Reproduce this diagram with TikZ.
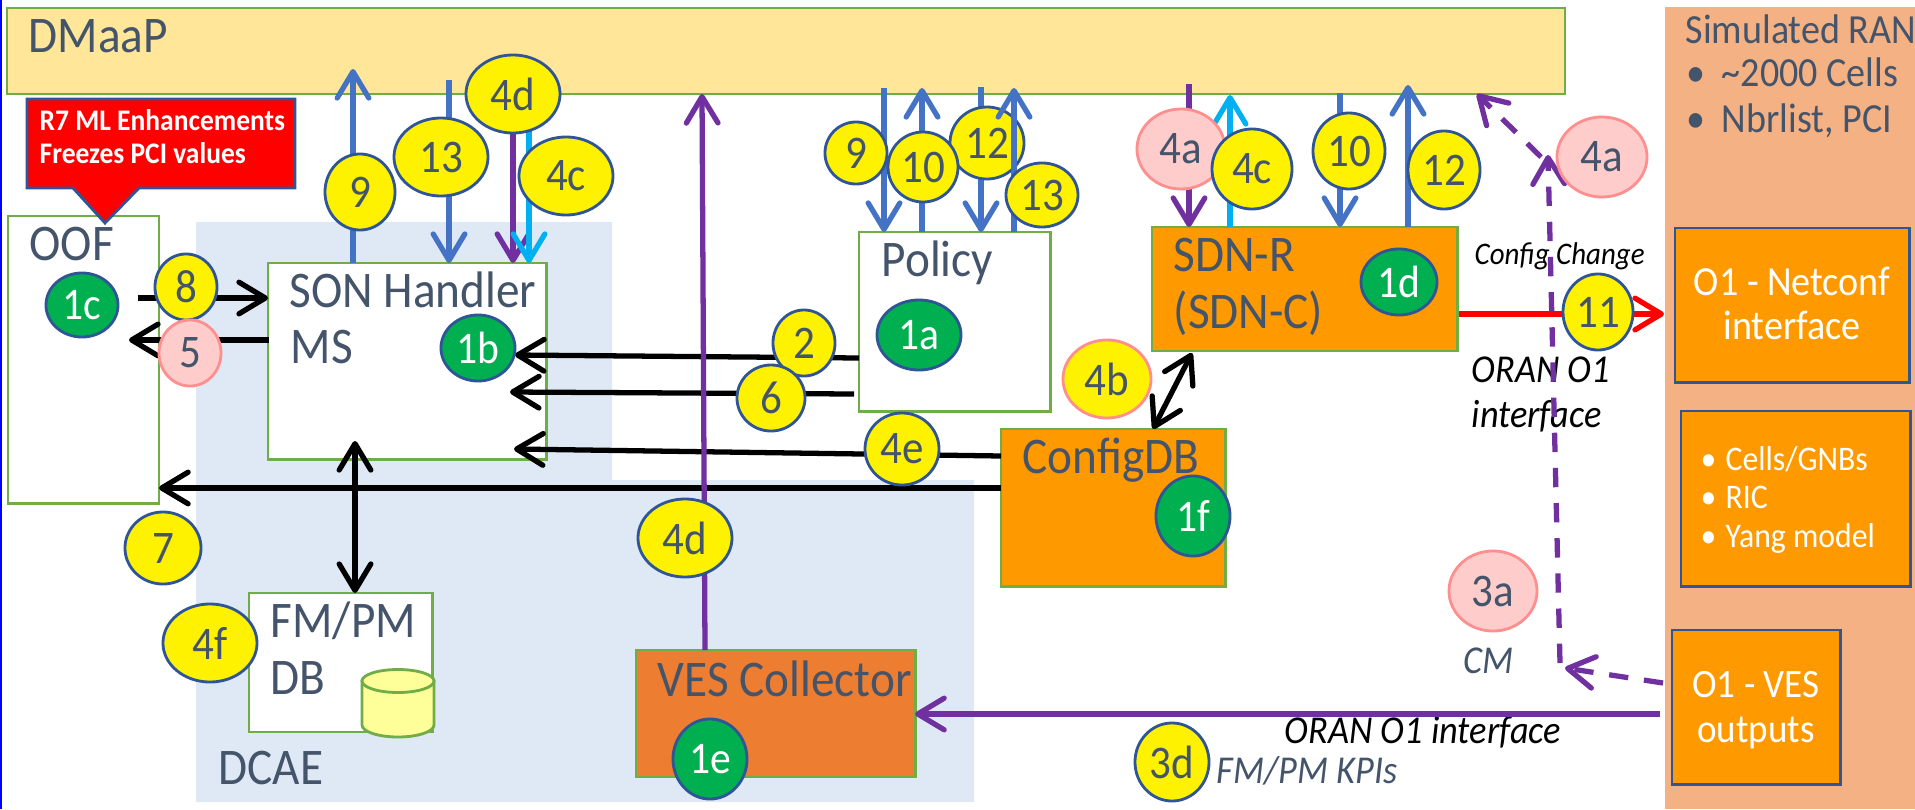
\documentclass[tikz,border=0pt]{standalone}
\usepackage{fontspec}
\setmainfont[Scale=1.09,FakeStretch=0.92]{Carlito}
\usepackage{tikz}
\usetikzlibrary{arrows.meta,shapes.geometric}
\definecolor{slate}{HTML}{44546A}
\definecolor{boxgreen}{HTML}{70AD47}
\definecolor{edgeblue}{HTML}{2F5597}
\definecolor{lineblue}{HTML}{4472C4}
\definecolor{linecyan}{HTML}{00B0F0}
\definecolor{linepurple}{HTML}{7030A0}
\definecolor{dmaapfill}{HTML}{FFE699}
\definecolor{dcaefill}{HTML}{DEE9F5}
\definecolor{ranfill}{HTML}{F4B183}
\definecolor{boxorange}{HTML}{FF9900}
\definecolor{vesorange}{HTML}{ED7D31}
\definecolor{cylfill}{HTML}{FFFF99}
\definecolor{pinkfill}{HTML}{FFCCCC}
\definecolor{pinkedge}{HTML}{FF8F8F}
\definecolor{badgegreen}{HTML}{00B050}
\tikzset{
	box/.style={draw=boxgreen, line width=0.8pt, anchor=north west, inner sep=0pt, outer sep=0pt},
	ranbox/.style={draw=edgeblue, fill=boxorange, line width=0.8pt, anchor=north west, inner sep=0pt, outer sep=0pt},
	lbl/.style={text=slate, anchor=base west, inner sep=0pt, font=\fontsize{13.4}{16}\selectfont},
	midlbl/.style={lbl, font=\fontsize{10.4}{12}\selectfont},
	oran/.style={lbl, text=black, font=\fontsize{10.3}{12}\itshape\selectfont},
	whitelbl/.style={text=white, anchor=base, inner sep=0pt, font=\fontsize{10.5}{12}\selectfont},
	badge/.style={ellipse, draw=edgeblue, line width=0.8pt, inner sep=0pt, text=slate, fill=yellow, font=\fontsize{12.2}{14}\selectfont},
	pinkb/.style={badge, draw=pinkedge, fill=pinkfill},
	greenb/.style={badge, fill=badgegreen, text=white, font=\fontsize{11.8}{14}\selectfont},
	link/.style={line width=1.5pt, -{Straight Barb[length=7.5pt,width=9pt,round]}},
	twolink/.style={line width=1.5pt, {Straight Barb[length=7.5pt,width=9pt,round]}-{Straight Barb[length=7.5pt,width=9pt,round]}},
	dashlink/.style={link, linepurple, dash pattern=on 5.5pt off 4.5pt},
}

\begin{document}
\begin{tikzpicture}[x=0.01cm, y=-0.01cm]
	\useasboundingbox (0,0) rectangle (1915,809);
	% Backgrounds
	\fill[blue] (0,0) rectangle (2,809);
	\fill[dcaefill] (196,222) -- (612,222) -- (612,480) -- (974,480) -- (974,802) -- (196,802) -- cycle;
	\fill[ranfill] (1665,7) rectangle (1915,809);
	% Define nodes
	\node[box, fill=dmaapfill, minimum width=15.57cm, minimum height=0.86cm] (dmaap) at (7,8) {};
	\node[box, fill=white, minimum width=1.51cm, minimum height=2.87cm]     (oof) at (8,216) {};
	\node[box, fill=white, minimum width=2.78cm, minimum height=1.96cm]     (son) at (268,263) {};
	\node[box, fill=white, minimum width=1.91cm, minimum height=1.79cm]     (policy) at (859,232) {};
	\node[box, fill=boxorange, minimum width=3.05cm, minimum height=1.24cm] (sdnr) at (1152,227) {};
	\node[box, fill=boxorange, minimum width=2.24cm, minimum height=1.57cm] (configdb) at (1001,429) {};
	\node[box, fill=white, minimum width=1.83cm, minimum height=1.39cm]     (fmpm) at (249,593) {};
	\node[box, fill=vesorange, minimum width=2.79cm, minimum height=1.27cm] (vescol) at (636,650) {};
	\node[ranbox, minimum width=2.34cm, minimum height=1.54cm] (netconf) at (1675,228) {};
	\node[ranbox, minimum width=2.29cm, minimum height=1.75cm] (cells) at (1681,411) {};
	\node[ranbox, minimum width=1.68cm, minimum height=1.54cm] (o1ves) at (1672,630) {};
	% Database drum
	\draw[draw=boxgreen, fill=cylfill, line width=0.8pt] (362,681) -- (362,725) arc[start angle=180, end angle=0, x radius=36, y radius=12] -- (434,681) -- cycle;
	\draw[draw=boxgreen, fill=cylfill, line width=0.8pt] (398,681) ellipse [x radius=36, y radius=11.5];
	% Callout
	\draw[fill=red, draw=edgeblue, line width=0.8pt] (27,99) -- (295,99) -- (295,188) -- (139,188) -- (105,223) -- (73,188) -- (27,188) -- cycle;
	\node[lbl, text=white, font=\fontsize{7.8}{10}\bfseries\selectfont] (r7a) at (39,130) {R7 ML Enhancements};
	\node[lbl, text=white, font=\fontsize{7.8}{10}\bfseries\selectfont] (r7b) at (39,163) {Freezes PCI values};
	% Labels
	\node[lbl] (dmaaptxt) at (28,52) {DMaaP};
	\node[lbl] (ooftxt) at (29,260) {OOF};
	\node[lbl] (sontxt) at (289,307) {SON Handler};
	\node[lbl] (mstxt) at (290,363) {MS};
	\node[lbl] (policytxt) at (881,276) {Policy};
	\node[lbl] (sdnrtxt) at (1173,271) {SDN-R};
	\node[lbl] (sdnctxt) at (1173,328) {(SDN-C)};
	\node[lbl] (configtxt) at (1022,473) {ConfigDB};
	\node[lbl] (fmpmtxt) at (270,637) {FM/PM};
	\node[lbl] (dbtxt) at (270,694) {DB};
	\node[lbl] (dcaetxt) at (218,784) {DCAE};
	\node[lbl] (vestxt) at (657,696) {VES Collector};
	\node[midlbl, font=\fontsize{10.8}{12}\selectfont] (simtxt) at (1685,43) {Simulated RAN};
	\node[midlbl, font=\fontsize{10.8}{12}\selectfont] (cellcount) at (1686,87) {\makebox[0.35cm][l]{•}\textasciitilde 2000 Cells};
	\node[midlbl, font=\fontsize{10.8}{12}\selectfont] (nbrlist) at (1686,132) {\makebox[0.35cm][l]{•}Nbrlist, PCI};
	\node[whitelbl, font=\fontsize{10.8}{12}\selectfont] (nctxta) at (1792,295) {O1 - Netconf};
	\node[whitelbl, font=\fontsize{10.8}{12}\selectfont] (nctxtb) at (1792,339) {interface};
	\node[whitelbl, anchor=base west, font=\fontsize{9}{11}\selectfont] (celltxt) at (1700,470) {\makebox[0.25cm][l]{•}Cells/GNBs};
	\node[whitelbl, anchor=base west, font=\fontsize{9}{11}\selectfont] (rictxt) at (1700,508) {\makebox[0.25cm][l]{•}RIC};
	\node[whitelbl, anchor=base west, font=\fontsize{9}{11}\selectfont] (yangtxt) at (1700,547) {\makebox[0.25cm][l]{•}Yang model};
	\node[whitelbl] (vesouta) at (1756,697) {O1 - VES};
	\node[whitelbl] (vesoutb) at (1756,742) {outputs};
	\node[oran, font=\fontsize{8.2}{10}\itshape\selectfont] (cfgchg) at (1474,264) {Config Change};
	\node[oran] (oranr1) at (1471,382) {ORAN O1};
	\node[oran] (oranr2) at (1471,427) {interface};
	\node[oran] (oranb) at (1284,743) {ORAN O1 interface};
	\node[midlbl, font=\fontsize{10.3}{12}\itshape\selectfont] (kpitxt) at (1216,783) {FM/PM KPIs};
	\node[midlbl, font=\fontsize{10.3}{12}\itshape\selectfont] (cmtxt) at (1463,673) {CM};
	% Free arrow ends
	\coordinate (s8) at (138,298);
	\coordinate (y5) at (269,340);
	\coordinate (e5) at (129,340);
	\coordinate (s2) at (859,358);
	\coordinate (e2) at (515,355);
	\coordinate (s6) at (854,394);
	\coordinate (e6) at (510,392);
	\coordinate (s4e) at (1001,456);
	\coordinate (e4e) at (514,449);
	\coordinate (y7) at (1001,488);
	\coordinate (up1) at (355,441);
	\coordinate (dn1) at (355,593);
	\coordinate (up2) at (1192,353);
	\coordinate (dn2) at (1153,429);
	\coordinate (t9a) at (353,69);
	\coordinate (s13a) at (449,80);
	\coordinate (x4da) at (513,94);
	\coordinate (s4ca) at (529,125);
	\coordinate (s9b) at (884,88);
	\coordinate (t10b) at (922,88);
	\coordinate (s12b) at (981,87);
	\coordinate (t13b) at (1014,88);
	\coordinate (s4ab) at (1189,84);
	\coordinate (t4cb) at (1230,95);
	\coordinate (s10c) at (1340,93);
	\coordinate (t12c) at (1408,85);
	\coordinate (sves) at (705,650);
	\coordinate (tves) at (702,94);
	\coordinate (sred) at (1459,314);
	\coordinate (ered) at (1664,314);
	\coordinate (s3d) at (1660,714);
	\coordinate (d1s) at (1663,683);
	\coordinate (d1e) at (1565,668);
	\coordinate (d2s) at (1560,663);
	\coordinate (d2e) at (1548,155);
	\coordinate (d3s) at (1541,157);
	\coordinate (d3e) at (1477,94);
	% Connect the nodes
	\draw[link] (s8) -- (son.west |- s8);
	\draw[link] (y5) -- (e5);
	\draw[link] (s2) -- (e2);
	\draw[link] (s6) -- (e6);
	\draw[link] (s4e) -- (e4e);
	\draw[link] (y7) -- (oof.east |- y7);
	\draw[twolink] (up1) -- (dn1);
	\draw[twolink] (up2) -- (dn2);
	\draw[link, lineblue] (son.north -| t9a) -- (t9a);
	\draw[link, lineblue] (s13a) -- (son.north -| s13a);
	\draw[link, linepurple] (x4da) -- (son.north -| x4da);
	\draw[link, linecyan] (s4ca) -- (son.north -| s4ca);
	\draw[link, lineblue] (s9b) -- (policy.north -| s9b);
	\draw[link, lineblue] (policy.north -| t10b) -- (t10b);
	\draw[link, lineblue] (s12b) -- (policy.north -| s12b);
	\draw[link, linepurple] (s4ab) -- (sdnr.north -| s4ab);
	\draw[link, linecyan] (sdnr.north -| t4cb) -- (t4cb);
	\draw[link, lineblue] (s10c) -- (sdnr.north -| s10c);
	\draw[link, lineblue] (sdnr.north -| t12c) -- (t12c);
	\draw[link, linepurple] (sves) -- (tves);
	\draw[link, red] (sred) -- (ered);
	\draw[link, linepurple] (s3d) -- (vescol.east |- s3d);
	\draw[dashlink] (d1s) -- (d1e);
	\draw[dashlink] (d2s) -- (d2e);
	\draw[dashlink] (d3s) -- (d3e);
	% Badges
	\node[badge, minimum width=0.94cm, minimum height=0.78cm] (b4da) at (513,94) {4d};
	\node[badge, minimum width=0.94cm, minimum height=0.78cm] (b13a) at (441,157) {13};
	\node[badge, minimum width=0.70cm, minimum height=0.76cm] (b9a) at (360,192) {9};
	\node[badge, minimum width=0.94cm, minimum height=0.78cm] (b4ca) at (566,176) {4c};
	\node[badge, minimum width=0.62cm, minimum height=0.66cm] (b8) at (186,287) {8};
	\node[pinkb, minimum width=0.62cm, minimum height=0.66cm] (b5) at (190,353) {5};
	\node[badge, minimum width=0.62cm, minimum height=0.62cm] (b9b) at (856,153) {9};
	\node[badge, minimum width=0.74cm, minimum height=0.72cm] (b12b) at (987,143) {12};
	\draw[link, lineblue] (policy.north -| t13b) -- (t13b);
	\node[badge, minimum width=0.70cm, minimum height=0.70cm] (b10b) at (923,167) {10};
	\node[badge, minimum width=0.72cm, minimum height=0.64cm] (b13b) at (1042,195) {13};
	\node[pinkb, minimum width=0.88cm, minimum height=0.80cm] (b4ab) at (1181,149) {4a};
	\node[badge, minimum width=0.80cm, minimum height=0.80cm] (b4cb) at (1252,169) {4c};
	\node[badge, minimum width=0.72cm, minimum height=0.76cm] (b10c) at (1349,151) {10};
	\node[badge, minimum width=0.72cm, minimum height=0.78cm] (b12c) at (1444,170) {12};
	\node[pinkb, minimum width=0.90cm, minimum height=0.80cm] (b4ac) at (1602,157) {4a};
	\node[badge, minimum width=0.70cm, minimum height=0.76cm] (b11) at (1598,312) {11};
	\node[badge, minimum width=0.62cm, minimum height=0.66cm] (b2) at (804,343) {2};
	\node[badge, minimum width=0.68cm, minimum height=0.66cm] (b6) at (771,398) {6};
	\node[badge, draw=pinkedge, minimum width=0.88cm, minimum height=0.78cm] (b4b) at (1107,379) {4b};
	\node[badge, minimum width=0.74cm, minimum height=0.72cm] (b4e) at (902,449) {4e};
	\node[badge, minimum width=0.76cm, minimum height=0.72cm] (b7) at (163,548) {7};
	\node[badge, minimum width=0.94cm, minimum height=0.78cm] (b4f) at (210,643) {4f};
	\node[badge, minimum width=0.94cm, minimum height=0.78cm] (b4dv) at (685,538) {4d};
	\node[pinkb, minimum width=0.88cm, minimum height=0.80cm] (b3a) at (1493,591) {3a};
	\node[badge, minimum width=0.74cm, minimum height=0.78cm] (b3d) at (1172,762) {3d};
	\node[greenb, minimum width=0.72cm, minimum height=0.64cm] (g1c) at (82,305) {1c};
	\node[greenb, minimum width=0.74cm, minimum height=0.66cm] (g1b) at (478,348) {1b};
	\node[greenb, minimum width=0.84cm, minimum height=0.70cm] (g1a) at (919,335) {1a};
	\node[greenb, minimum width=0.76cm, minimum height=0.66cm] (g1d) at (1399,282) {1d};
	\node[greenb, minimum width=0.74cm, minimum height=0.80cm] (g1f) at (1193,516) {1f};
	\node[greenb, minimum width=0.74cm, minimum height=0.80cm] (g1e) at (710,759) {1e};
\end{tikzpicture}
\end{document}
